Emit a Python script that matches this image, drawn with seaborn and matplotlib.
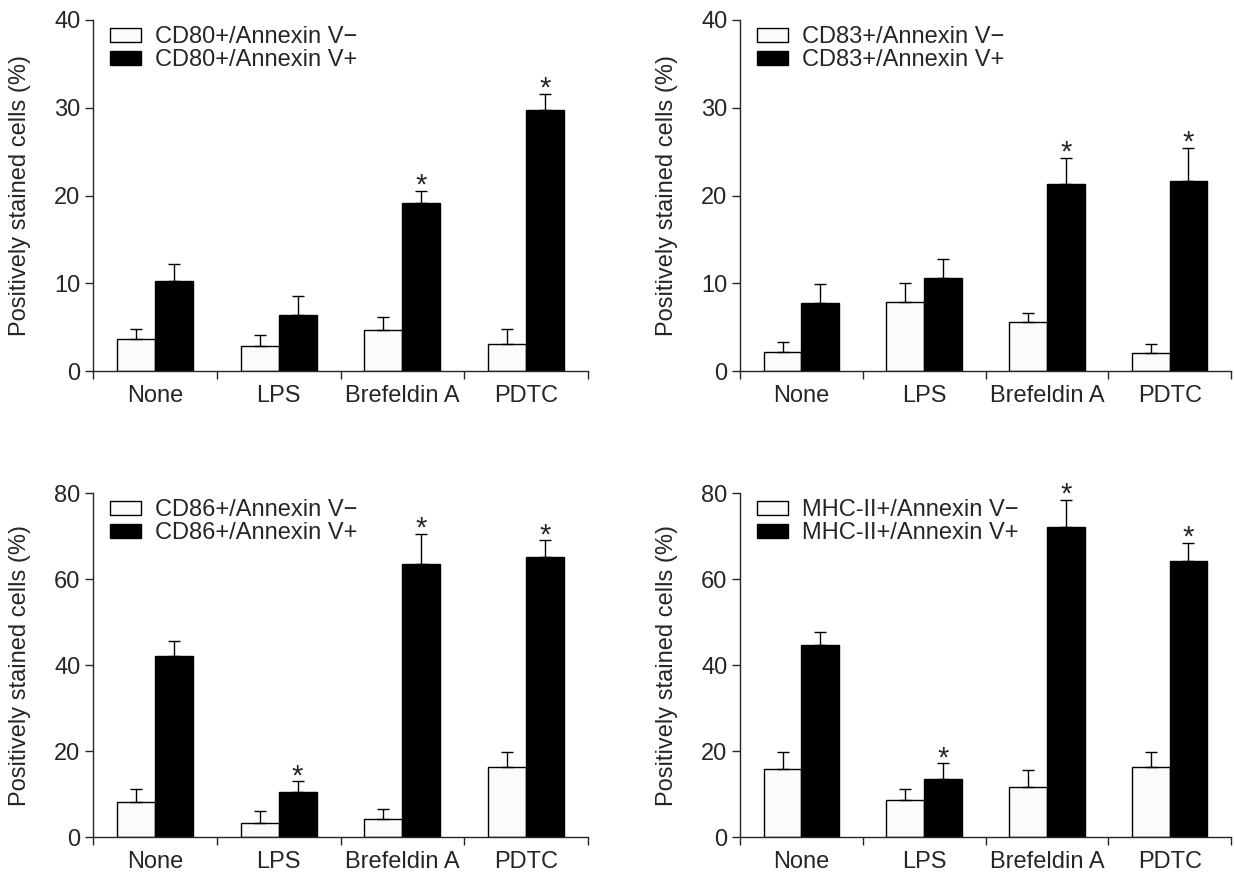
import matplotlib
matplotlib.use("Agg")
import matplotlib.pyplot as plt
import numpy as np
import pandas as pd
import seaborn as sns

# Values (means and upper SD)
treatments = ["None", "LPS", "Brefeldin A", "PDTC"]

cd80_neg = [3.6, 2.8, 4.7, 3.1]
cd80_neg_err = [1.2, 1.35, 1.45, 1.65]
cd80_pos = [10.2, 6.4, 19.2, 29.8]
cd80_pos_err = [2.0, 2.1, 1.35, 1.75]
cd80_star = [False, False, True, True]

cd83_neg = [2.2, 7.9, 5.6, 2.1]
cd83_neg_err = [1.05, 2.15, 1.05, 0.95]
cd83_pos = [7.8, 10.6, 21.3, 21.7]
cd83_pos_err = [2.1, 2.15, 3.0, 3.7]
cd83_star = [False, False, True, True]

cd86_neg = [8.1, 3.2, 4.2, 16.2]
cd86_neg_err = [2.95, 2.9, 2.35, 3.6]
cd86_pos = [42.2, 10.4, 63.5, 65.2]
cd86_pos_err = [3.4, 2.55, 6.9, 3.8]
cd86_star = [False, True, True, True]

mhc_neg = [15.8, 8.6, 11.7, 16.2]
mhc_neg_err = [4.05, 2.5, 3.95, 3.6]
mhc_pos = [44.6, 13.6, 72.1, 64.2]
mhc_pos_err = [3.0, 3.5, 6.25, 4.2]
mhc_star = [False, True, True, True]

panels = [
    ("CD80+", cd80_neg, cd80_neg_err, cd80_pos, cd80_pos_err, cd80_star, 40, 10),
    ("CD83+", cd83_neg, cd83_neg_err, cd83_pos, cd83_pos_err, cd83_star, 40, 10),
    ("CD86+", cd86_neg, cd86_neg_err, cd86_pos, cd86_pos_err, cd86_star, 80, 20),
    ("MHC-II+", mhc_neg, mhc_neg_err, mhc_pos, mhc_pos_err, mhc_star, 80, 20),
]

sns.set_style("ticks")
plt.rcParams["font.family"] = ["Liberation Sans", "DejaVu Sans"]
plt.rcParams["axes.linewidth"] = 1.0

W, H = 1234, 873
fig = plt.figure(figsize=(W / 100, H / 100), dpi=100)

# axes boxes in pixels: left, top, right, bottom
boxes = [
    (93, 20, 588, 371),
    (740, 20, 1231, 371),
    (93, 493, 588, 837),
    (740, 493, 1231, 837),
]

FS = 17

for (marker, neg, neg_err, pos, pos_err, stars, ymax, ystep), box in zip(panels, boxes):
    l, t, r, b = box
    ax = fig.add_axes([l / W, 1 - b / H, (r - l) / W, (b - t) / H])

    lab_neg = f"{marker}/Annexin V\u2212"
    lab_pos = f"{marker}/Annexin V+"
    df = pd.DataFrame({
        "treatment": treatments * 2,
        "value": neg + pos,
        "group": [lab_neg] * 4 + [lab_pos] * 4,
    })
    sns.barplot(
        data=df, x="treatment", y="value", hue="group",
        order=treatments, hue_order=[lab_neg, lab_pos],
        palette=["#fbfbfb", "#000000"], width=0.615,
        edgecolor="black", linewidth=1.0, errorbar=None, saturation=1,
        ax=ax,
    )

    # upper-only error bars, placed at the bar centres seaborn produced
    for cont, errs in zip(ax.containers, [neg_err, pos_err]):
        xs = [p.get_x() + p.get_width() / 2 for p in cont.patches]
        ys = [p.get_height() for p in cont.patches]
        ax.errorbar(xs, ys, yerr=[np.zeros(len(errs)), errs], fmt="none",
                    ecolor="black", elinewidth=1.0, capsize=4.3,
                    capthick=1.0, zorder=1)

    # significance asterisks over the Annexin V+ bars
    pcont = ax.containers[1]
    for p, e, s in zip(pcont.patches, pos_err, stars):
        if s:
            ax.annotate("*", (p.get_x() + p.get_width() / 2, p.get_height() + e),
                        xytext=(0, -2), textcoords="offset points",
                        ha="center", va="baseline", fontsize=21)

    ax.set_xlim(-0.5, 3.5)
    ax.set_ylim(0, ymax)
    ax.set_yticks(np.arange(0, ymax + 1, ystep))
    ax.set_xticks(range(4))
    ax.set_xticklabels(treatments)
    ax.set_xticks([-0.5, 0.5, 1.5, 2.5, 3.5], minor=True)
    ax.tick_params(axis="x", which="major", length=0, pad=10, labelsize=FS)
    ax.tick_params(axis="x", which="minor", length=6, width=1.0, direction="out")
    ax.tick_params(axis="y", length=6, width=1.0, direction="out", pad=3, labelsize=FS)
    ax.set_xlabel("")
    ax.set_ylabel("Positively stained cells (%)", fontsize=FS)
    ax.yaxis.set_label_coords(-62 / (r - l), 0.5)
    sns.despine(ax=ax)

    leg = ax.legend(loc="upper left", bbox_to_anchor=(17 / (r - l), 1 - 6 / (b - t)),
                    frameon=False, fontsize=FS, borderpad=0, borderaxespad=0,
                    handlelength=1.3, handleheight=0.55, handletextpad=0.6,
                    labelspacing=0.05)
    for h in leg.legend_handles:
        h.set_edgecolor("black")
        h.set_linewidth(1.0)

fig.savefig("out.png", dpi=100)
